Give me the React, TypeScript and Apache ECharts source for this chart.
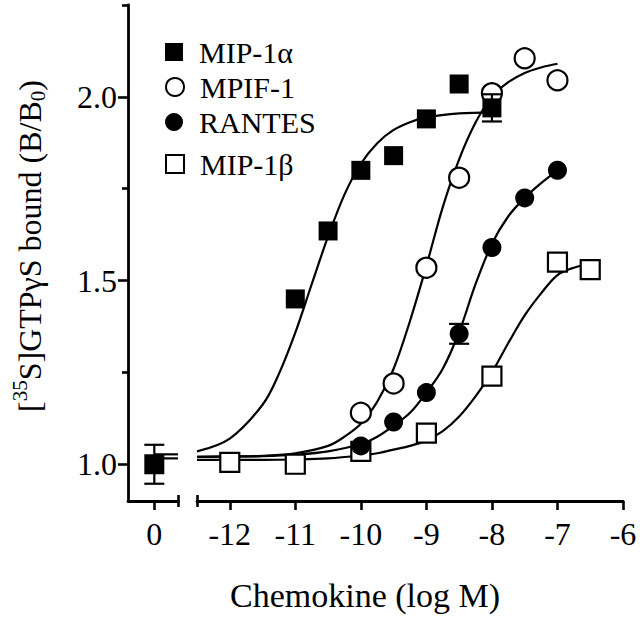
import React, { useEffect, useRef } from "react";
import * as echarts from "echarts";

// ---- data ----
const X_TICKS = [-12, -11, -10, -9, -8, -7, -6];
const Y_MAJOR = [1.0, 1.5, 2.0];
const Y_MINOR = [1.25, 1.75, 2.25];
const ZERO_TICK = [0];

const mip1aX = [-11, -10.5, -10, -9.5, -9, -8.5, -8];
const mip1aY = [1.45, 1.635, 1.8, 1.84, 1.94, 2.035, 1.97];
const mpifX = [-10, -9.5, -9, -8.5, -8, -7.5, -7];
const mpifY = [1.14, 1.22, 1.535, 1.78, 2.01, 2.105, 2.045];
const rantesX = [-10, -9.5, -9, -8.5, -8, -7.5, -7];
const rantesY = [1.05, 1.115, 1.195, 1.355, 1.59, 1.725, 1.8];
const mip1bX = [-12, -11, -10, -9, -8, -7, -6.5];
const mip1bY = [1.005, 1.0, 1.035, 1.085, 1.24, 1.55, 1.53];

const zeroX = [0];
const zeroY = [1.0];
const zeroErr = [0.053];

const errMainX = [-8, -8.5];
const errMainY = [1.97, 1.355];
const errMainE = [0.037, 0.027];

// fitted curves
const fitAX = [-12.5, -12, -11.5, -11.25, -11, -10.75, -10.5, -10.25, -10, -9.75, -9.5, -9.25, -9, -8.5, -8];
const fitAY = [1.035, 1.07, 1.162, 1.246, 1.358, 1.49, 1.62, 1.734, 1.818, 1.874, 1.91, 1.931, 1.944, 1.955, 1.958];
const fitMX = [-12.5, -12, -11.5, -11, -10.5, -10.25, -10, -9.75, -9.5, -9.25, -9, -8.75, -8.5, -8.25, -8, -7.75, -7.5, -7.25, -7];
const fitMY = [1.02, 1.021, 1.023, 1.03, 1.05, 1.075, 1.11, 1.17, 1.26, 1.39, 1.54, 1.7, 1.83, 1.93, 2.0, 2.04, 2.065, 2.08, 2.09];
const fitRX = [-12.5, -12, -11.5, -11, -10.5, -10, -9.75, -9.5, -9.25, -9, -8.75, -8.5, -8.25, -8, -7.75, -7.5, -7.25, -7];
const fitRY = [1.02, 1.021, 1.022, 1.026, 1.035, 1.055, 1.075, 1.105, 1.14, 1.195, 1.26, 1.36, 1.49, 1.6, 1.675, 1.725, 1.765, 1.8];
const fitBX = [-12.5, -12, -11.5, -11, -10.5, -10, -9.75, -9.5, -9.25, -9, -8.75, -8.5, -8.25, -8, -7.75, -7.5, -7.25, -7, -6.75, -6.5];
const fitBY = [1.012, 1.012, 1.012, 1.013, 1.016, 1.024, 1.03, 1.04, 1.05, 1.065, 1.09, 1.13, 1.185, 1.25, 1.33, 1.405, 1.465, 1.515, 1.535, 1.545];

// baseline stubs in the "0" segment
const stubX = [0, 0.36];
const stubHiY = [1.027, 1.027];
const stubLoY = [1.016, 1.016];

const LEFT_MIN = -0.4;
const LEFT_MAX = 0.36;
const MAIN_MIN = -12.5;
const MAIN_MAX = -6;
const Y_MIN = 0.9;
const Y_MAX = 2.25;

const NAMES = ["MIP-1α", "MPIF-1", "RANTES", "MIP-1β"];

const zip = (xs: number[], ys: number[]) => xs.map((x, i) => [x, ys[i]]);
const zip3 = (xs: number[], ys: number[], es: number[]) => xs.map((x, i) => [x, ys[i], es[i]]);

const FONT = "Liberation Serif, Times New Roman, serif";
const BLACK = "#000";

function errRender(params: any, api: any) {
  const x = api.value(0);
  const y = api.value(1);
  const e = api.value(2);
  const top = api.coord([x, y + e]);
  const bot = api.coord([x, y - e]);
  const hw = 10;
  const style = { stroke: BLACK, lineWidth: 2.2 };
  return {
    type: "group",
    children: [
      { type: "line", shape: { x1: top[0], y1: top[1], x2: bot[0], y2: bot[1] }, style },
      { type: "line", shape: { x1: top[0] - hw, y1: top[1], x2: top[0] + hw, y2: top[1] }, style },
      { type: "line", shape: { x1: bot[0] - hw, y1: bot[1], x2: bot[0] + hw, y2: bot[1] }, style },
    ],
  };
}

export default function App() {
  const ref = useRef<HTMLDivElement>(null);
  useEffect(() => {
    if (!ref.current) return;
    const chart = echarts.init(ref.current, null, { renderer: "svg" });
    const axisLine = { show: true, onZero: false, lineStyle: { color: BLACK, width: 2.8 } };
    const noLine = { show: false, onZero: false };
    const tickStyle = { color: BLACK, width: 2.6 };
    const lineSeries = (name: string, xs: number[], ys: number[], xi: number, yi: number) => ({
      type: "line",
      name,
      xAxisIndex: xi,
      yAxisIndex: yi,
      data: zip(xs, ys),
      smooth: 0.35,
      showSymbol: false,
      symbol: "none",
      silent: true,
      lineStyle: { color: BLACK, width: 2.2, opacity: 1 },
      z: 1,
    });
    const legendTops = [37, 72, 107, 149];
    const option: any = {
      animation: false,
      backgroundColor: "#fff",
      grid: [
        { left: 128, top: 5, width: 50, height: 496 },
        { left: 197, top: 5, width: 426, height: 496 },
      ],
      legend: NAMES.map((n, i) => ({
        data: [n],
        left: 165,
        top: legendTops[i],
        padding: 0,
        itemWidth: 18,
        itemHeight: 18,
        itemStyle: { opacity: 1 },
        textStyle: { fontFamily: FONT, fontSize: 30, color: BLACK, padding: [0, 0, 0, 11] },
        selectedMode: false,
      })),
      xAxis: [
        {
          gridIndex: 0,
          type: "value",
          position: "bottom",
          min: LEFT_MIN,
          max: LEFT_MAX,
          axisLine,
          axisTick: { show: true, customValues: ZERO_TICK, length: 9, lineStyle: tickStyle },
          axisLabel: { customValues: ZERO_TICK, fontFamily: FONT, fontSize: 32, color: BLACK, margin: 17 },
          splitLine: { show: false },
        },
        {
          gridIndex: 1,
          type: "value",
          position: "bottom",
          min: MAIN_MIN,
          max: MAIN_MAX,
          axisLine,
          axisTick: { show: true, customValues: X_TICKS, length: 9, lineStyle: tickStyle },
          axisLabel: { customValues: X_TICKS, fontFamily: FONT, fontSize: 32, color: BLACK, margin: 17 },
          splitLine: { show: false },
        },
        {
          gridIndex: 0,
          type: "value",
          position: "bottom",
          offset: 6,
          min: LEFT_MIN,
          max: LEFT_MAX,
          axisLine: noLine,
          axisTick: { show: true, inside: true, customValues: [LEFT_MAX], length: 12, lineStyle: tickStyle },
          axisLabel: { show: false },
          splitLine: { show: false },
        },
        {
          gridIndex: 1,
          type: "value",
          position: "bottom",
          offset: 6,
          min: MAIN_MIN,
          max: MAIN_MAX,
          axisLine: noLine,
          axisTick: { show: true, inside: true, customValues: [MAIN_MIN], length: 12, lineStyle: tickStyle },
          axisLabel: { show: false },
          splitLine: { show: false },
        },
      ],
      yAxis: [
        {
          gridIndex: 0,
          type: "value",
          position: "left",
          min: Y_MIN,
          max: Y_MAX,
          axisLine,
          axisTick: { show: true, customValues: Y_MAJOR, length: 10, lineStyle: tickStyle },
          axisLabel: {
            customValues: Y_MAJOR,
            formatter: (v: number) => v.toFixed(1),
            fontFamily: FONT,
            fontSize: 32,
            color: BLACK,
            margin: 11,
          },
          splitLine: { show: false },
          name: "[{sup|35}S]GTPγS bound (B/B{sub|0})",
          nameLocation: "middle",
          nameRotate: 90,
          nameGap: 78,
          nameTextStyle: {
            fontFamily: FONT,
            fontSize: 32,
            color: BLACK,
            padding: [0, 0, 0, 14],
            rich: {
              sup: { fontFamily: FONT, fontSize: 21, color: BLACK, padding: [0, 0, 20, 0] },
              sub: { fontFamily: FONT, fontSize: 21, color: BLACK, padding: [16, 0, 0, 0] },
            },
          },
        },
        {
          gridIndex: 0,
          type: "value",
          position: "left",
          min: Y_MIN,
          max: Y_MAX,
          axisLine: noLine,
          axisTick: { show: true, customValues: Y_MINOR, length: 6, lineStyle: tickStyle },
          axisLabel: { show: false },
          splitLine: { show: false },
        },
        {
          gridIndex: 1,
          type: "value",
          min: Y_MIN,
          max: Y_MAX,
          show: false,
          axisLine: noLine,
          splitLine: { show: false },
        },
      ],
      graphic: [
        {
          type: "text",
          x: 365,
          y: 595,
          style: {
            text: "Chemokine (log M)",
            font: `34px ${FONT}`,
            fill: BLACK,
            textAlign: "center",
            textVerticalAlign: "middle",
          },
        },
      ],
      series: [
        lineSeries("stubHi", stubX, stubHiY, 0, 0),
        lineSeries("stubLo", stubX, stubLoY, 0, 0),
        lineSeries("fitB", fitBX, fitBY, 1, 2),
        lineSeries("fitR", fitRX, fitRY, 1, 2),
        lineSeries("fitM", fitMX, fitMY, 1, 2),
        lineSeries("fitA", fitAX, fitAY, 1, 2),
        {
          type: "scatter",
          name: "MIP-1β",
          xAxisIndex: 1,
          yAxisIndex: 2,
          data: zip(mip1bX, mip1bY),
          symbol: "rect",
          symbolSize: 19,
          itemStyle: { color: "#fff", borderColor: BLACK, borderWidth: 2.2, opacity: 1 },
          z: 3,
        },
        {
          type: "scatter",
          name: "MPIF-1",
          xAxisIndex: 1,
          yAxisIndex: 2,
          data: zip(mpifX, mpifY),
          symbol: "circle",
          symbolSize: 20,
          itemStyle: { color: "#fff", borderColor: BLACK, borderWidth: 2.2, opacity: 1 },
          z: 4,
        },
        {
          type: "scatter",
          name: "RANTES",
          xAxisIndex: 1,
          yAxisIndex: 2,
          data: zip(rantesX, rantesY),
          symbol: "circle",
          symbolSize: 19,
          itemStyle: { color: BLACK, opacity: 1 },
          z: 5,
        },
        {
          type: "scatter",
          name: "MIP-1α",
          xAxisIndex: 1,
          yAxisIndex: 2,
          data: zip(mip1aX, mip1aY),
          symbol: "rect",
          symbolSize: 19,
          itemStyle: { color: BLACK, opacity: 1 },
          z: 6,
        },
        {
          type: "scatter",
          name: "MIP-1α",
          xAxisIndex: 0,
          yAxisIndex: 0,
          data: zip(zeroX, zeroY),
          symbol: "rect",
          symbolSize: 20,
          itemStyle: { color: BLACK, opacity: 1 },
          z: 6,
        },
        {
          type: "custom",
          name: "errMain",
          xAxisIndex: 1,
          yAxisIndex: 2,
          data: zip3(errMainX, errMainY, errMainE),
          renderItem: errRender,
          z: 7,
          silent: true,
        },
        {
          type: "custom",
          name: "errZero",
          xAxisIndex: 0,
          yAxisIndex: 0,
          data: zip3(zeroX, zeroY, zeroErr),
          renderItem: errRender,
          z: 7,
          silent: true,
        },
      ],
    };
    chart.setOption(option);
    return () => chart.dispose();
  }, []);
  return (
    <div
      ref={ref}
      style={{ position: "absolute", left: 0, top: 0, width: 640, height: 622, background: "#fff" }}
    />
  );
}
